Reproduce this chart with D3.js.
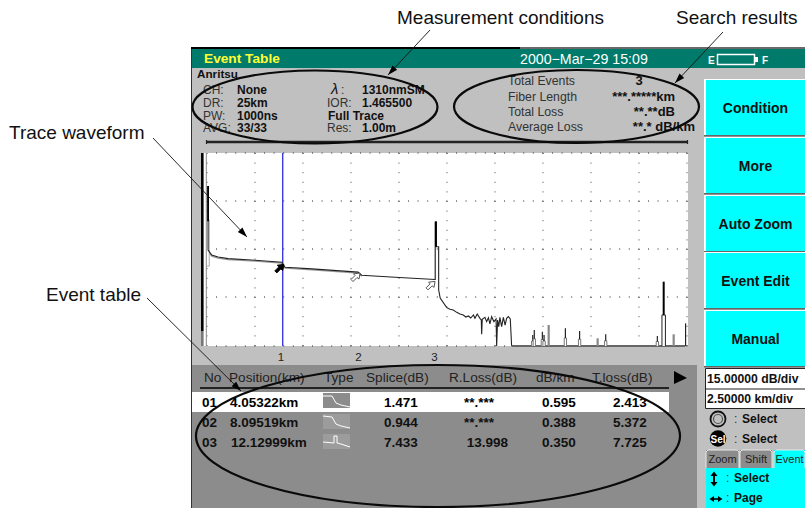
<!DOCTYPE html>
<html><head><meta charset="utf-8">
<script src="https://cdn.jsdelivr.net/npm/d3@7"></script>
<style>html,body{margin:0;padding:0;background:#fff}svg{display:block}text{font-family:"Liberation Sans",Arial,sans-serif}</style>
</head><body><div id="c"></div>
<script>
// ---- data ----
const traceKm = [0.16,0.16,0.23,0.35,0.68,1.2,2.6,4.0,4.17,5.56,7.97,8.16,9.9,11.98,12.0,12.0,12.05,12.05,12.17,12.17,12.25,12.59,12.76,12.93,13.11,13.28,13.45,13.59,13.72,13.84,13.98,14.06,14.18,14.32,14.39,14.41,14.44,14.58,14.67,14.76,14.84,14.93,15.05,15.16,15.19,15.24,15.3,15.36,15.45,15.54,15.63,15.71,15.8,15.9,15.97];
const traceDb = [50,30,29.4,28.4,27.8,27.3,26.8,26.2,24.6,24.1,23.1,22.1,21.5,20.8,20.9,38.8,38.8,31,31,17.5,15,11.98,11.46,11.25,10.52,10,9.69,9.06,9.38,8.75,9.69,8.65,10,8.65,8.13,3.65,8.33,8.96,7.6,8.85,6.88,9.17,7.6,8.44,0,8.13,6.04,8.96,6.04,8.96,6.56,8.65,9.17,8.44,0];
const spikeKm = [17.07,17.15,17.57,17.66,17.9,18.77,19.51,20.45,20.87,23.56,24.41];
const spikeDb = [3.44,5,4.48,3.44,6.56,5.52,4.69,2.4,3.65,3.13,3.65];
const spikeGrey = [0,0,0,0,1,0,0,1,0,0,1];
const tallSpikeKm = 23.89, tallSpikeDb = 20.1, tallSpikeBase = 9.7;
const edgeSpikeKm = 25.03, edgeSpikeDb = 7.08;
const eventKm = [4.0,7.97,11.93];
const eventNo = ["01","02","03"];
const eventPos = ["4.05322km","8.09519km","12.12999km"];
const eventSplice = ["1.471","0.944","7.433"];
const eventRLoss = ["**.***","**.***","13.998"];
const eventDbKm = ["0.595","0.388","0.350"];
const eventTLoss = ["2.413","5.372","7.725"];
const tableHeads = ["No","Position(km)","Type","Splice(dB)","R.Loss(dB)","dB/km","T.loss(dB)"];
const buttons = ["Condition","More","Auto Zoom","Event Edit","Manual"];
const tabs = ["Zoom","Shift","Event"];

const W=805,H=508;
const svg=d3.select("#c").append("svg").attr("width",W).attr("height",H).attr("viewBox",`0 0 ${W} ${H}`);
const rect=(x,y,w,h,f,g)=>(g||svg).append("rect").attr("x",x).attr("y",y).attr("width",w).attr("height",h).attr("fill",f);
const txt=(s,x,y,o={})=>(o.g||svg).append("text").attr("x",x).attr("y",y).text(s)
  .attr("font-size",o.size||11).attr("font-weight",o.b?"bold":"normal").attr("fill",o.fill||"#111")
  .attr("text-anchor",o.a||"start").attr("font-style",o.i||"normal").attr("font-family",o.fam||null)
  .attr("letter-spacing",o.ls||null);
const seg=(x1,y1,x2,y2,c,w)=>svg.append("line").attr("x1",x1).attr("y1",y1).attr("x2",x2).attr("y2",y2).attr("stroke",c).attr("stroke-width",w);

// instrument frame
rect(191,47,614,461,"#c0c0c0");
rect(191,47,329,2,"#000");
rect(520,47,285,2,"#6a6a6a");
rect(191,49,1,459,"#333");
rect(192,49,613,19,"#007b6b");
txt("Event Table",204,63,{size:13.7,b:1,fill:"#ffff33"});
txt("2000\u2212Mar\u221229 15:09",520,64,{size:14.2,fill:"#fff"});
txt("E",708,64,{size:10,b:1,fill:"#fff"});
svg.append("rect").attr("x",717.5).attr("y",54.5).attr("width",37).attr("height",10).attr("fill","#007b6b").attr("stroke","#fff").attr("stroke-width",1.5);
rect(755,57,3,5,"#fff");
txt("F",762,64,{size:10,b:1,fill:"#fff"});

// header left
txt("Anritsu",197,78,{size:11.7,b:1});
[["CH:","None",94],["DR:","25km",107],["PW:","1000ns",119.5],["AVG:","33/33",132]].forEach(d=>{
  txt(d[0],203,d[2],{size:12,fill:"#333"});txt(d[1],237,d[2],{size:12,b:1});});
txt("\u03bb",331,94,{size:15,i:"italic",fam:"Liberation Serif"});
txt(":",341,94,{size:12,fill:"#333"});
txt("1310nmSM",362,94,{size:12,b:1});
txt("IOR:",327,107,{size:12,fill:"#333"});txt("1.465500",362,107,{size:12,b:1});
txt("Full Trace",328,119.5,{size:12,b:1});
txt("Res:",327,132,{size:12,fill:"#333"});txt("1.00m",362,132,{size:12,b:1});
// header right
[["Total Events","3",85,"middle",639],["Fiber Length","***.*****km",101,"end",675],["Total Loss","**.**dB",116,"end",675],["Average Loss","**.* dB/km",131,"end",695]].forEach(d=>{
  txt(d[0],508,d[2],{size:12.3,fill:"#333"});txt(d[1],d[4],d[2],{size:13,b:1,a:d[3]});});
seg(206,142,688,142,"#222",2.5);
seg(206.5,140,206.5,144,"#222",1.2);seg(687.5,140,687.5,144,"#222",1.2);

// plot
const x=d3.scaleLinear().domain([0,25]).range([205,685]);
const y=d3.scaleLinear().domain([0,60]).range([346,154]);
rect(203,153,485,193,"#fff");
const gridKm=d3.range(0,11).map(i=>0.104+2.5*i);
const gridDb=d3.range(0,5).map(i=>i*15);
const plot=svg.append("g");
plot.selectAll("line.v").data(gridKm).join("line").attr("x1",d=>x(d)).attr("x2",d=>x(d)).attr("y1",y(60)-1).attr("y2",y(0))
  .attr("stroke","#444").attr("stroke-width",1).attr("stroke-dasharray","1 8.6");
plot.selectAll("line.h").data(gridDb).join("line").attr("x1",216).attr("x2",x(25)+3).attr("y1",d=>y(d)-(d==0?0:1)).attr("y2",d=>y(d)-(d==0?0:1))
  .attr("stroke","#222").attr("stroke-width",1).attr("stroke-dasharray","1 8.6");

// left bars
rect(201,153,2.6,178,"#000");
rect(201,331,2.6,15,"#777");
rect(205.8,153,1,193,"#888");
svg.append("rect").attr("x",206.6).attr("y",220).attr("width",2.6).attr("height",46).attr("fill","#fff").attr("stroke","#999").attr("stroke-width",.8);
// cursor
seg(x(4.0)+.9,153,x(4.0)+.9,346,"#3a3ae0",1.4);

const pts=traceKm.map((k,i)=>[k,traceDb[i]]);
const line=d3.line().x(d=>x(d[0])).y(d=>y(d[1]));
const head=pts.slice(2,12);
svg.append("path").attr("d",line(head)).attr("fill","none").attr("stroke","#999").attr("stroke-width",1.2).attr("transform","translate(0,1)");
svg.append("path").attr("d",line(pts)).attr("fill","none").attr("stroke","#222").attr("stroke-width",1.1);
// emphasised part of the launch and event spikes
svg.append("path").attr("d",line([pts[0],[0.16,39]])).attr("stroke","#000").attr("stroke-width",1.8);
svg.append("path").attr("d",line([[12.02,38.8],[12.02,31]])).attr("stroke","#000").attr("stroke-width",2);
svg.append("path").attr("d",line([[11.97,31],[11.97,21]])).attr("stroke","#999").attr("stroke-width",1);
// floor
svg.append("path").attr("d",line([[15.97,0],[25,0]])).attr("stroke","#666").attr("stroke-width",2);
// spikes
spikeKm.forEach((k,i)=>{
  const h=spikeDb[i];
  if(spikeGrey[i]){
    svg.append("path").attr("d",line([[k,0],[k,h]])).attr("stroke","#888").attr("stroke-width",2.2);
  }else{
    svg.append("path").attr("d",line([[k-.06,0],[k-.06,h*.45],[k+.06,h*.45],[k+.06,0]])).attr("fill","#fff").attr("stroke","#777").attr("stroke-width",1);
    svg.append("path").attr("d",line([[k,h*.45],[k,h]])).attr("stroke","#222").attr("stroke-width",1.2);
  }
});
svg.append("path").attr("d",line([[tallSpikeKm-.09,0],[tallSpikeKm-.09,tallSpikeBase],[tallSpikeKm+.09,tallSpikeBase],[tallSpikeKm+.09,0]])).attr("fill","#fff").attr("stroke","#222").attr("stroke-width",1);
svg.append("path").attr("d",line([[tallSpikeKm,tallSpikeBase],[tallSpikeKm,tallSpikeDb]])).attr("stroke","#000").attr("stroke-width",2);
svg.append("path").attr("d",line([[edgeSpikeKm,0],[edgeSpikeKm,edgeSpikeDb]])).attr("stroke","#222").attr("stroke-width",1.2);

// event markers and numbers
const markDb=[25.5,22.8,20.2];
const markShift=[2,2,1];
eventKm.forEach((k,i)=>{
  const g=svg.append("g").attr("transform",`translate(${x(k)+markShift[i]},${y(markDb[i])})`);
  g.append("path").attr("d","M0,0 L-1,6 L-3,4.5 L-7,8.5 L-9,6.5 L-5,2.5 L-6.5,0.8 Z")
    .attr("fill",i==0?"#000":"#fff").attr("stroke",i==0?"#000":"#555").attr("stroke-width",1);
  txt(String(i+1),x(k)+(i==0?-.8:0.5),361,{size:11.5,a:"middle",fill:"#222"});
});

// table
rect(192,365,505,143,"#8c8c8c");
rect(192,392,477,20,"#fff");
seg(200,388,669,388,"#222",2);
const hx=[204,229,324,366,449,536,592];
tableHeads.forEach((t,i)=>txt(t,hx[i],382,{size:13.6,fill:"#222"}));
svg.append("path").attr("d","M674,371 L687,378 L674,384 Z").attr("fill","#000");
const rowY=[406.5,427,447];
const iconY=[393,414,434];
const iconShape=[
 [[0,3],[9,3],[13,10],[18,12],[27,14]],
 [[0,2],[9,3],[13,10],[18,12],[27,14]],
 [[0,8],[11,9],[11,2],[14,2],[14,9],[18,10],[27,13]]];
eventNo.forEach((n,i)=>{
  const t=i==0?"#000":"#111";
  txt(n,202,rowY[i],{size:13.5,b:1,fill:t});
  txt(eventPos[i],i==2?231:230,rowY[i],{size:13.5,b:1,fill:t});
  txt(eventSplice[i],401,rowY[i],{size:13.5,b:1,a:"middle",fill:t});
  txt(eventRLoss[i],eventRLoss[i][0]=="*"?494:508,rowY[i],{size:13.5,b:1,a:"end",fill:t});
  txt(eventDbKm[i],559,rowY[i],{size:13.5,b:1,a:"middle",fill:t});
  txt(eventTLoss[i],630,rowY[i],{size:13.5,b:1,a:"middle",fill:t});
  const g=svg.append("g").attr("transform",`translate(323,${iconY[i]})`);
  g.append("rect").attr("width",27).attr("height",15).attr("fill",i==0?"#8c8c8c":"#9c9c9c");
  g.append("path").attr("d",d3.line()(iconShape[i])).attr("fill","none").attr("stroke","#fff").attr("stroke-width",1);
});

// buttons
const bY=[80,138,196,253,311];
buttons.forEach((b,i)=>{
  rect(704,bY[i]-1,101,57,"#fff");
  rect(706,bY[i],99,55,"#00ffff");
  rect(704,bY[i]+55,101,1.5,"#666");
  txt(b,755.5,bY[i]+33,{size:14,b:1,a:"middle"});
});
// scale boxes
rect(705,368,100,41,"#fff");
svg.append("path").attr("d","M805,368.5 H705.5 V408.5 H805 M705.5,389 H805").attr("fill","none").attr("stroke","#222").attr("stroke-width",1);
txt("15.00000 dB/div",707,383,{size:12.2,b:1});
txt("2.50000 km/div",707,403,{size:12.2,b:1});
// knobs
svg.append("circle").attr("cx",718).attr("cy",419).attr("r",7.5).attr("fill","#c0c0c0").attr("stroke","#111").attr("stroke-width",1.8);
svg.append("circle").attr("cx",718).attr("cy",419).attr("r",4.5).attr("fill","none").attr("stroke","#555").attr("stroke-width",1.2);
svg.append("circle").attr("cx",718).attr("cy",438.5).attr("r",8.3).attr("fill","#000");
txt("Sel",718,442.5,{size:10,b:1,a:"middle",fill:"#fff"});
txt(":",734,423,{size:12,fill:"#333"});txt("Select",742,423,{size:12,b:1});
txt(":",734,443,{size:12,fill:"#333"});txt("Select",742,443,{size:12,b:1});
// tabs
const tX=[706,740,774],tW=[33,32,31];
tabs.forEach((t,i)=>{
  rect(tX[i],450,tW[i],18,i==2?"#00ffff":"#8c8c8c");
  svg.append("path").attr("d",`M${tX[i]},468 V452 L${tX[i]+2},450 H${tX[i]+tW[i]-2} L${tX[i]+tW[i]},452 V468`).attr("fill","none").attr("stroke","#e8e8e8").attr("stroke-width",1);
  txt(t,tX[i]+tW[i]/2,463,{size:11,a:"middle",fill:"#222"});
});
rect(706,468,99,40,"#00ffff");
const dbl=(p)=>svg.append("path").attr("d",p).attr("fill","#000");
seg(714,475,714,483,"#000",2);dbl("M710.5,476 L714,471.5 L717.5,476 Z");dbl("M710.5,482 L714,486.5 L717.5,482 Z");
seg(712,499,720,499,"#000",1.6);dbl("M714,496 L709.5,499 L714,502 Z");dbl("M718,496 L722.5,499 L718,502 Z");
txt(":",726,482,{size:12,fill:"#333"});txt("Select",734,482,{size:12,b:1});
txt(":",726,502,{size:12,fill:"#333"});txt("Page",734,502,{size:12,b:1});

// annotation ellipses
[[315,107,122.5,36.5],[576.5,106.5,122.5,36.5],[438,436,242,71]].forEach(e=>{
  svg.append("ellipse").attr("cx",e[0]).attr("cy",e[1]).attr("rx",e[2]).attr("ry",e[3]).attr("fill","none").attr("stroke","#0a0a0a").attr("stroke-width",2.2);
});
// annotation leaders
const leader=(x1,y1,x2,y2)=>{
  seg(x1,y1,x2,y2,"#111",.9);
  const a=Math.atan2(y2-y1,x2-x1),L=10,W2=3.2;
  const bx=x2-L*Math.cos(a),by=y2-L*Math.sin(a);
  svg.append("path").attr("d",`M${x2},${y2} L${bx-W2*Math.sin(a)},${by+W2*Math.cos(a)} L${bx+W2*Math.sin(a)},${by-W2*Math.cos(a)} Z`).attr("fill","#000");
};
leader(430,30,388,75);
leader(723,32,675,83);
leader(153,138,247,237);
leader(147,298,241,391);
txt("Measurement conditions",397,24,{size:19,fill:"#111"});
txt("Search results",676,24,{size:19,fill:"#111"});
txt("Trace waveform",9,139,{size:19,fill:"#111"});
txt("Event table",46,301,{size:19,fill:"#111"});
</script></body></html>
